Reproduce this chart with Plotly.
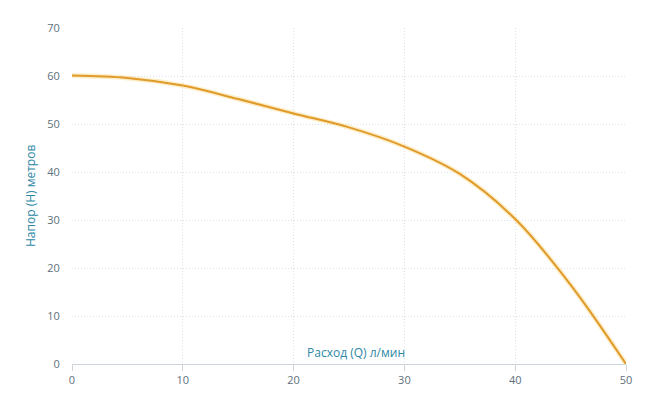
import plotly.graph_objects as go

flow = [0, 5, 10, 15, 20, 25, 30, 35, 40, 45, 50]
head = [60.1, 59.6, 58.0, 55.2, 52.2, 49.3, 45.3, 39.6, 30.2, 16.5, 0.0]
x_ticks = [0, 10, 20, 30, 40, 50]
y_ticks = [0, 10, 20, 30, 40, 50, 60, 70]

fig = go.Figure()
fig.add_trace(go.Scatter(x=flow, y=head, mode="lines", line=dict(color="rgba(250,200,80,0.30)", width=5, shape="spline", smoothing=1.0), hoverinfo="skip", showlegend=False))
fig.add_trace(go.Scatter(x=flow, y=head, mode="lines", line=dict(color="#E09A2A", width=2, shape="spline", smoothing=1.0), showlegend=False))

fig.update_layout(
    width=638, height=397,
    margin=dict(l=64, r=20, t=14, b=41),
    paper_bgcolor="white", plot_bgcolor="white",
    font=dict(family="Open Sans, sans-serif", size=11, color="#5E707C"),
    xaxis=dict(range=[0, 50], tickvals=x_ticks, showgrid=True, gridcolor="#DDE2E7", griddash="1px,2px", gridwidth=1,
               showline=True, linecolor="#CCD3DA", linewidth=1, ticks="outside", ticklen=6, tickcolor="#CCD3DA",
               zeroline=False, fixedrange=True),
    yaxis=dict(range=[0, 70], tickvals=y_ticks, showgrid=True, gridcolor="#DDE2E7", griddash="1px,2px", gridwidth=1,
               showline=False, ticks="outside", ticklen=9, tickcolor="rgba(0,0,0,0)", zeroline=False, fixedrange=True),
    annotations=[
        dict(text="Расход (Q) л/мин", xref="paper", yref="paper", x=0.512, y=0, yshift=12, showarrow=False,
             font=dict(size=12, color="#2E88A6"), xanchor="center", yanchor="middle"),
        dict(text="Напор (H) метров", xref="paper", yref="paper", x=0, y=0.5, xshift=-42, showarrow=False,
             textangle=-90, font=dict(size=12, color="#2E88A6"), xanchor="center", yanchor="middle"),
    ],
)
fig.write_html("out.html")
